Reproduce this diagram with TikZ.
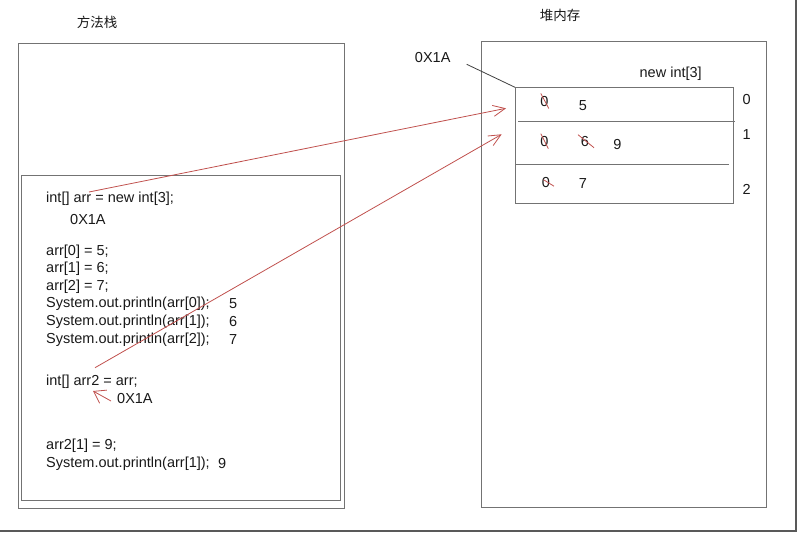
\documentclass[tikz,border=0pt]{standalone}
\usepackage{fontspec}
\setmainfont{Liberation Sans}
\newfontfamily\cjk{Noto Sans CJK SC}
\usepackage{tikz}
\usetikzlibrary{arrows.meta,positioning,calc}
\definecolor{penred}{RGB}{192,80,77}
\definecolor{boxgray}{RGB}{115,115,115}

\begin{document}
\begin{tikzpicture}[x=1pt,y=-1pt,
    every node/.style={inner sep=0pt,font=\fontsize{14.5}{16}\selectfont,text=black!90},
    code/.style={anchor=west},
    title/.style={font=\cjk\fontsize{13.5}{15}\selectfont},
    frame/.style={draw=boxgray,line width=1pt},
    pen/.style={penred,line width=0.8pt},
    ptr/.style={pen,-{Straight Barb[length=12pt,width=11pt]}}]
    \useasboundingbox (0,0) rectangle (800,535);
    % screenshot shadow
    \draw[black!65,line width=2pt] (796,0) -- (796,531) -- (0,531);

    % method stack
    \node[title] (stacktitle) at (97,22) {方法栈};
    \draw[frame] (18.5,44) rectangle (344,508);
    \draw[frame] (21.5,175.5) rectangle (340,500.5);
    \node[code] (decl) at (46,198.3) {int[] arr = new int[3];};
    \node[code] (addr1) at (70,220) {0X1A};
    \node[code] (set0) at (46,251.7) {arr[0] = 5;};
    \node[code] (set1) at (46,268.8) {arr[1] = 6;};
    \node[code] (set2) at (46,286.5) {arr[2] = 7;};
    \node[code] (print0) at (46,304) {System.out.println(arr[0]);};
    \node[code] (print1) at (46,321.7) {System.out.println(arr[1]);};
    \node[code] (print2) at (46,340) {System.out.println(arr[2]);};
    \node[code] (out0) at (229,304) {5};
    \node[code] (out1) at (229,321.7) {6};
    \node[code] (out2) at (229,340) {7};
    \node[code] (decl2) at (46,381.7) {int[] arr2 = arr;};
    \node[code] (addr2) at (117,399) {0X1A};
    \node[code] (set9) at (46,446) {arr2[1] = 9;};
    \node[code] (print9) at (46,463.3) {System.out.println(arr[1]);};
    \node[code] (out9) at (218,464) {9};

    % heap
    \node[title] (heaptitle) at (560,15) {堆内存};
    \draw[frame] (481.5,42) rectangle (766,507.5);
    \node[draw=boxgray,line width=1pt,anchor=north west,minimum width=217.5pt,minimum height=116pt] (arrbox) at (515,87.3) {};
    \draw[frame] (518,121.3) -- (734.7,121.3);
    \draw[frame] (515,164) -- (729.3,164);
    \node (newarr) at (670.7,74) {new int[3]};
    \node (idx0) at (746.7,100) {0};
    \node (idx1) at (746.7,135) {1};
    \node (idx2) at (746.7,189) {2};

    % cells
    \node (c00) at (544.3,101.5) {0};
    \node (c01) at (583,105.3) {5};
    \node (c10) at (544.3,141.7) {0};
    \node (c11) at (585,141.7) {6};
    \node (c12) at (617.3,144.7) {9};
    \node (c20) at (546,182.7) {0};
    \node (c21) at (583,184) {7};
    \draw[pen] ([shift={(-3.5,-8)}]c00.center) -- ([shift={(4.5,7)}]c00.center);
    \draw[pen] ([shift={(-3.5,-8)}]c10.center) -- ([shift={(4,7)}]c10.center);
    \draw[pen] ([shift={(-7,-7)}]c11.center) -- ([shift={(9,6)}]c11.center);
    \draw[pen] ([shift={(-2.5,-3)}]c20.center) -- ([shift={(8,3.5)}]c20.center);

    % address of the array
    \node (addrheap) at (432.7,57.7) {0X1A};
    \coordinate (addrtail) at (466.7,64.3);
    \draw[black!75,line width=0.8pt] (addrtail) -- (arrbox.north west);

    % references
    \coordinate (arrref) at (89,192);
    \coordinate (cell0in) at (506,108.3);
    \coordinate (arr2ref) at (95,367.7);
    \coordinate (cell1in) at (501.7,134.3);
    \coordinate (addr2tail) at (111,401);
    \coordinate (arr2var) at (93,391);
    \draw[ptr] (arrref) -- (cell0in);
    \draw[ptr] (arr2ref) -- (cell1in);
    \draw[pen,-{Straight Barb[length=11pt,width=15pt]}] (addr2tail) -- (arr2var);
\end{tikzpicture}
\end{document}
